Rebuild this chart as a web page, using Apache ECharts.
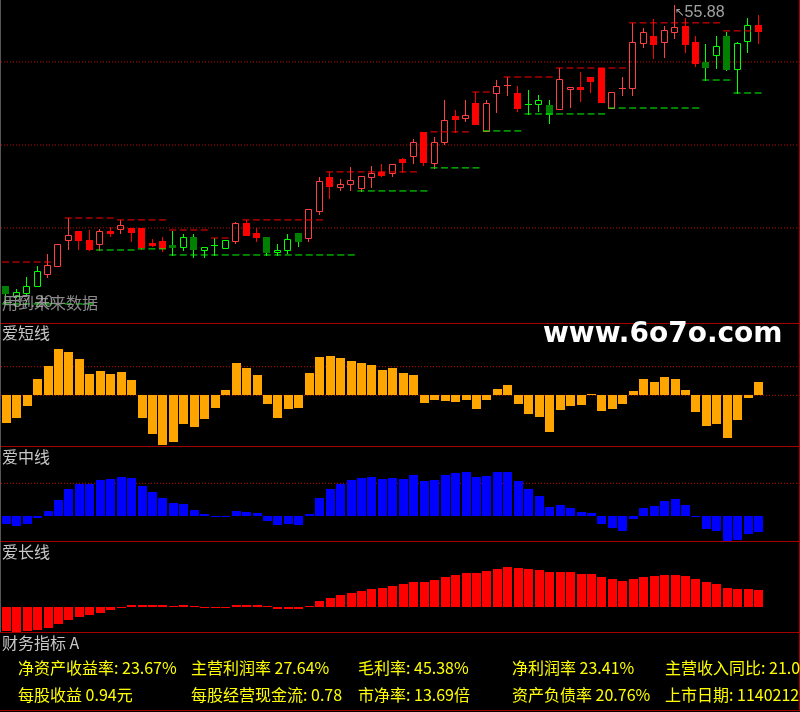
<!DOCTYPE html>
<html><head><meta charset="utf-8">
<script src="https://cdn.jsdelivr.net/npm/echarts@6/dist/echarts.min.js"></script>
<style>html,body{margin:0;padding:0;background:#000;}#c{width:800px;height:712px;}</style>
</head><body><div id="c"></div>
<script>
// ---- price data ----
const openP  = [38.32,37.70,37.89,38.32,39.07,39.57,41.20,41.76,41.20,40.95,41.76,41.89,41.95,41.95,41.01,41.14,40.89,40.76,41.39,40.57,40.89,40.70,41.14,42.26,41.64,41.39,40.45,40.57,41.64,41.32,43.01,45.13,44.51,44.70,44.45,45.13,45.45,45.38,46.26,46.45,47.95,46.01,47.32,48.95,48.82,49.76,48.01,50.38,50.88,50.38,49.69,49.69,49.63,49.38,50.63,50.76,51.38,51.94,49.44,50.69,50.69,53.51,53.94,53.57,54.19,54.57,53.57,52.32,52.76,53.94,51.88,53.63,54.63];
const closeP = [37.89,37.95,38.32,39.26,39.64,40.95,41.51,41.20,40.64,41.76,41.64,42.14,41.70,40.76,40.89,40.70,40.76,41.39,40.64,40.76,40.90,41.20,42.26,41.51,41.39,40.45,40.57,41.26,41.14,43.13,44.88,44.57,44.70,44.95,45.20,45.38,45.26,45.95,46.07,47.32,46.07,47.32,48.70,48.76,49.01,48.45,49.76,50.82,50.88,49.44,49.70,49.94,49.07,51.26,50.76,50.63,51.13,49.81,50.44,50.69,53.57,54.19,53.44,54.32,54.51,53.44,52.26,52.01,53.32,51.88,53.51,54.63,54.27];
const lowP   = [37.20,37.64,37.82,38.30,38.89,39.55,40.64,40.64,40.60,40.57,41.45,41.64,41.14,40.64,40.82,40.51,40.26,40.57,40.14,40.14,40.26,40.68,41.01,41.48,41.14,40.26,40.26,40.39,40.82,41.14,42.82,43.82,44.32,44.32,44.26,44.51,45.20,45.20,45.45,46.01,45.88,45.70,47.20,47.95,48.63,48.43,47.99,49.19,50.26,49.26,49.07,49.26,48.51,49.36,49.51,49.88,50.44,49.79,49.42,50.26,50.26,53.26,52.57,52.63,53.82,52.94,52.07,51.19,51.94,51.82,50.38,52.94,53.51];
const highP  = [38.32,38.14,38.89,39.57,40.32,40.97,42.57,41.76,41.82,41.89,42.01,42.45,41.97,41.97,41.26,41.39,41.76,41.57,41.57,40.78,41.32,41.22,42.32,42.45,41.95,41.41,40.95,41.57,41.66,43.16,45.13,45.45,45.01,45.76,45.22,45.82,45.95,45.97,46.32,47.51,47.97,47.63,49.94,49.32,49.94,50.44,49.94,51.19,51.38,50.82,50.57,50.26,49.94,51.94,50.78,51.69,51.40,51.96,50.46,51.38,54.76,54.44,55.00,54.57,55.88,55.07,53.94,53.44,53.94,54.19,53.57,55.07,55.26];
// trend colour flag from the indicator: 1 = red, 0 = green
const trendFlag = [0,0,0,0,1,1,1,1,1,1,1,1,1,1,1,1,0,0,0,0,0,0,1,1,1,0,0,0,0,1,1,1,1,1,1,1,1,1,1,1,1,1,1,1,1,1,1,1,1,1,0,0,0,1,1,1,1,1,1,1,1,1,1,1,1,1,1,0,0,0,0,0,1];
// resistance / support step levels: [startIndex, endIndex, price]
const resistLevels = [[0,4,39.82],[6,10,42.57],[11,15,42.45],[16,19,41.82],[20,21,41.32],[23,30,42.45],[31,39,45.45],[41,44,47.95],[45,46,50.44],[48,52,51.38],[53,59,51.94],[60,68,54.76],[69,71,54.26]];
const supportLevels = [[0,8,37.20],[9,12,40.57],[13,15,40.64],[16,33,40.26],[34,40,44.26],[41,45,45.70],[46,49,48.01],[50,57,49.07],[58,66,49.44],[67,69,51.19],[70,72,50.38]];
const priceGridLevels = [52.32, 47.13, 41.95];
// ---- indicator panels ----
const shortLine = [-82,-67,-31,49,88,139,130,109,64,73,64,70,46,-67,-115,-148,-139,-85,-94,-70,-37,16,97,82,61,-25,-67,-40,-37,67,115,118,112,103,97,91,76,82,67,61,-22,-14,-17,-20,-14,-41,-14,19,31,-25,-56,-65,-110,-44,-32,-29,4,-47,-41,-26,13,49,40,55,49,16,-50,-92,-86,-128,-74,-8,40];
const shortLevels = [86, 0];
const midLine = [-23,-29,-23,-5,16,49,83,97,97,109,112,118,115,91,73,55,40,37,19,7,1,1,16,13,10,-14,-26,-23,-26,7,55,83,97,109,115,118,112,115,112,124,106,109,124,130,133,118,121,133,133,106,82,61,28,34,25,13,10,-24,-36,-44,-8,25,31,46,52,34,-3,-38,-44,-74,-72,-54,-48];
const midLevels = [99];
const longLine = [-71,-74,-71,-67,-62,-49,-37,-29,-23,-16,-7,-2,7,7,7,7,4,7,4,1,1,1,7,7,7,4,-4,-4,-4,4,19,28,37,43,49,55,58,64,70,76,76,82,91,97,103,103,109,115,121,118,115,112,106,106,106,100,100,91,85,79,85,91,94,97,97,94,85,76,70,58,55,55,52];
// ---- texts ----
const panelTitles = ['爱短线', '爱中线', '爱长线', '财务指标 A'];
const finLabelsRow1 = ['净资产收益率: ', '主营利润率 ', '毛利率: ', '净利润率 ', '主营收入同比: '];
const finValuesRow1 = ['23.67%', '27.64%', '45.38%', '23.41%', '21.0'];
const finLabelsRow2 = ['每股收益 ', '每股经营现金流: ', '市净率: ', '资产负债率 ', '上市日期: '];
const finValuesRow2 = ['0.94元', '0.78', '13.69倍', '20.76%', '1140212'];
const watermark = 'www.6o7o.com';
const futureWarn = '用到未来数据';

// ---- layout ----
const XMIN = -0.5, XMAX = 75.86;
const grids = [
  {left: 1, width: 798, top: 0, height: 323},
  {left: 1, width: 798, top: 323.3, height: 123.4},
  {left: 1, width: 798, top: 446.3, height: 95},
  {left: 1, width: 798, top: 541.3, height: 90.7}
];
const yRanges = [[36.01, 56.19], [-154, 216], [-75, 210], [-74, 198]];
const RED_BORDER = '#A80000', DOT_RED = '#C80000';

const chart = echarts.init(document.getElementById('c'), null, {renderer: 'canvas'});
const candleData = openP.map((o, i) => [i, o, closeP[i], lowP[i], highP[i], trendFlag[i]]);

function renderCandle(params, api) {
  const i = api.value(0), o = api.value(1), c = api.value(2), l = api.value(3), h = api.value(4), t = api.value(5);
  const po = api.coord([i, o]), pc = api.coord([i, c]), pl = api.coord([i, l]), ph = api.coord([i, h]);
  const cx = Math.round(po[0]);
  const top = Math.round(Math.min(po[1], pc[1])), bot = Math.round(Math.max(po[1], pc[1]));
  const yh = Math.round(ph[1]), yl = Math.round(pl[1]);
  const up = c > o, doji = (bot - top) < 1;
  const red = t === 1;
  const lineCol = red ? ((up || doji) ? '#FF4040' : '#FF0000') : '#00FF00';
  const fillCol = red ? '#FF0000' : '#008000';
  const L = cx - 4, W = 7, wx = cx - 0.5;
  const ch = [];
  if (yh < top) ch.push({type: 'line', shape: {x1: wx, y1: yh, x2: wx, y2: top}, style: {stroke: lineCol, lineWidth: 1}});
  if (yl > bot) ch.push({type: 'line', shape: {x1: wx, y1: bot + 1, x2: wx, y2: yl + 1}, style: {stroke: lineCol, lineWidth: 1}});
  if (doji) ch.push({type: 'line', shape: {x1: L, y1: top + 0.5, x2: L + W, y2: top + 0.5}, style: {stroke: lineCol, lineWidth: 1}});
  else if (up) ch.push({type: 'rect', shape: {x: L + 0.5, y: top + 0.5, width: W - 1, height: bot - top}, style: {fill: null, stroke: lineCol, lineWidth: 1}});
  else ch.push({type: 'rect', shape: {x: L, y: top, width: W, height: bot - top + 1}, style: {fill: fillCol}});
  return {type: 'group', children: ch};
}

function levelSeries(levels, color, gi) {
  return levels.map(([s, e, v]) => ({
    type: 'line', xAxisIndex: gi, yAxisIndex: gi, silent: true, symbol: 'none', z: 4,
    data: [[s - 0.4, v], [e + 0.4, v]],
    lineStyle: {color: color, width: 1, type: [7, 3.5]}
  }));
}
function hLines(values, gi, color) {
  return values.map(v => ({
    type: 'line', xAxisIndex: gi, yAxisIndex: gi, silent: true, symbol: 'none', z: 1,
    data: [[XMIN, v], [XMAX, v]],
    lineStyle: {color: color, width: 1, type: [1, 2]}
  }));
}
function barSeries(vals, gi, color) {
  return {
    type: 'custom', xAxisIndex: gi, yAxisIndex: gi, silent: true, z: 2,
    data: vals.map((v, i) => [i, v]), encode: {x: 0, y: 1},
    renderItem: (params, api) => {
      const p0 = api.coord([api.value(0), 0]);
      const p1 = api.coord([api.value(0), api.value(1)]);
      const x = Math.round(p0[0] - 4.5);
      const y0 = Math.round(p0[1]), y1 = Math.round(p1[1]);
      return {type: 'rect', shape: {x: x, y: Math.min(y0, y1), width: 9, height: Math.max(1, Math.abs(y1 - y0))},
        style: {fill: color}};
    }
  };
}

let hiIdx = 0, loIdx = 0;
highP.forEach((v, i) => { if (v > highP[hiIdx]) hiIdx = i; });
lowP.forEach((v, i) => { if (v < lowP[loIdx]) loIdx = i; });

const series = [
  ...hLines(priceGridLevels, 0, DOT_RED),
  {type: 'custom', xAxisIndex: 0, yAxisIndex: 0, renderItem: renderCandle, data: candleData,
   encode: {x: 0, y: [1, 2, 3, 4]}, z: 3, silent: true},
  ...levelSeries(resistLevels, '#FF0000', 0),
  ...levelSeries(supportLevels, '#00FF00', 0),
  {type: 'scatter', xAxisIndex: 0, yAxisIndex: 0, symbolSize: 1, itemStyle: {color: 'rgba(0,0,0,0)'}, z: 6, silent: true,
   data: [[hiIdx, highP[hiIdx]]],
   label: {show: true, position: 'right', distance: 0, offset: [-1, 8],
     formatter: p => '{a|↖}{b|' + p.value[1].toFixed(2) + '}',
     rich: {a: {fontFamily: 'DejaVu Sans', fontSize: 12, color: '#C8C8C8'},
            b: {fontFamily: 'Liberation Sans', fontSize: 16, color: '#C8C8C8'}}}},
  {type: 'scatter', xAxisIndex: 0, yAxisIndex: 0, symbolSize: 1, itemStyle: {color: 'rgba(0,0,0,0)'}, z: 6, silent: true,
   data: [[loIdx, lowP[loIdx]]],
   label: {show: true, position: 'right', distance: 0, offset: [-4, -1],
     formatter: p => '{a|←}{b|' + p.value[1].toFixed(2) + '}',
     rich: {a: {fontFamily: 'DejaVu Sans', fontSize: 12, color: '#B0B0B0'},
            b: {fontFamily: 'Liberation Sans', fontSize: 16, color: '#B0B0B0'}}}},
  ...hLines(shortLevels, 1, DOT_RED),
  barSeries(shortLine, 1, '#FFA500'),
  ...hLines(midLevels, 2, DOT_RED),
  barSeries(midLine, 2, '#0000FF'),
  barSeries(longLine, 3, '#FF0000')
];

const graphic = [];
[323.5, 446.5, 541.5, 632.5, 710.5].forEach(y => graphic.push({type: 'line', silent: true, z: 10,
  shape: {x1: 0, y1: y, x2: 800, y2: y}, style: {stroke: RED_BORDER, lineWidth: 1}}));
graphic.push({type: 'line', silent: true, z: 10, shape: {x1: 799.5, y1: 0, x2: 799.5, y2: 711}, style: {stroke: RED_BORDER, lineWidth: 1}});
graphic.push({type: 'line', silent: true, z: 10, shape: {x1: 0.5, y1: 0, x2: 0.5, y2: 632}, style: {stroke: '#555555', lineWidth: 1}});
const titleY = [333, 457, 552, 643];
panelTitles.forEach((t, k) => graphic.push({type: 'text', x: 2, y: titleY[k], z: 11, silent: true,
  style: {text: t, fill: '#C8C8C8', font: '16px "Noto Sans CJK SC"', verticalAlign: 'middle'}}));
const colX = [18, 191, 358, 512, 665];
[[finLabelsRow1, finValuesRow1, 668], [finLabelsRow2, finValuesRow2, 695]].forEach(([labs, vals, y]) => {
  labs.forEach((lab, k) => graphic.push({type: 'text', x: colX[k], y: y, z: 11, silent: true,
    style: {text: lab + vals[k], fill: '#FFFF00', font: '16px "Noto Sans CJK SC"', verticalAlign: 'middle'}}));
});
graphic.push({type: 'text', x: 543, y: 335, z: 11, silent: true,
  style: {text: watermark, fill: '#FFFFFF', font: 'bold 28px "DejaVu Sans"', verticalAlign: 'middle'}});
graphic.push({type: 'text', x: 2, y: 303, z: 5, silent: true,
  style: {text: futureWarn, fill: '#8C8C8C', font: '16px "Noto Sans CJK SC"', verticalAlign: 'middle'}});

chart.setOption({
  backgroundColor: '#000000',
  animation: false,
  grid: grids,
  xAxis: grids.map((g, k) => ({type: 'value', gridIndex: k, min: XMIN, max: XMAX, show: false})),
  yAxis: grids.map((g, k) => ({type: 'value', gridIndex: k, min: yRanges[k][0], max: yRanges[k][1], show: false, splitLine: {show: false}})),
  series: series,
  graphic: graphic
});
</script></body></html>
